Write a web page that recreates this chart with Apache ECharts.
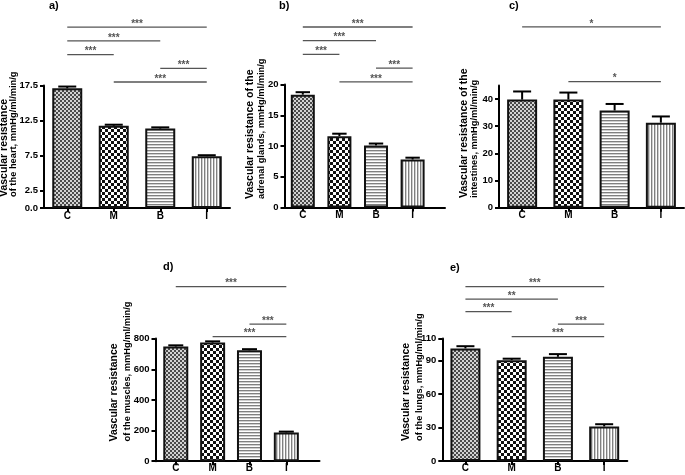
<!DOCTYPE html>
<html><head><meta charset="utf-8">
<script src="https://cdn.jsdelivr.net/npm/echarts@6/dist/echarts.min.js"></script>
<style>html,body{margin:0;padding:0;background:#fff}#c{width:685px;height:475px}</style>
</head><body><div id="c"></div><script>
// ---------- data ----------
const categories = ['C', 'M', 'B', 'I'];

const heartMean = [17.1, 11.75, 11.35, 7.4];
const heartSem  = [0.25, 0.15, 0.17, 0.14];
const heartTicks = [0, 2.5, 7.5, 12.5, 17.5];

const adrenalMean = [18.35, 11.6, 10.1, 7.8];
const adrenalSem  = [0.4, 0.4, 0.3, 0.3];
const adrenalTicks = [0, 5, 10, 15, 20];

const intestMean = [39.8, 39.8, 35.8, 31.3];
const intestSem  = [3.0, 2.6, 2.4, 2.3];
const intestTicks = [0, 10, 20, 30, 40];

const muscleMean = [748, 774, 724, 188];
const muscleSem  = [8, 8, 7, 5];
const muscleTicks = [0, 200, 400, 600, 800];

const lungMean = [101, 90.5, 93.5, 31];
const lungSem  = [2, 1.3, 2.4, 2];
const lungTicks = [0, 30, 60, 90, 110];

// significance brackets: [from category, to category, stars, stack level]
const heartSig   = [[1, 3, '***', 0], [2, 3, '***', 1], [0, 1, '***', 2], [0, 2, '***', 3], [0, 3, '***', 4]];
const adrenalSig = [[1, 3, '***', 0], [2, 3, '***', 1], [0, 1, '***', 2], [0, 2, '***', 3], [0, 3, '***', 4]];
const intestSig  = [[1, 3, '*', 0], [0, 3, '*', 4]];
const muscleSig  = [[1, 3, '***', 0], [2, 3, '***', 1], [0, 3, '***', 4]];
const lungSig    = [[1, 3, '***', 0], [2, 3, '***', 1], [0, 1, '***', 2], [0, 2, '**', 3], [0, 3, '***', 4]];

const panelLetters = ['a)', 'b)', 'c)', 'd)', 'e)'];
const titleLine1 = ['Vascular resistance', 'Vascular resistance of the', 'Vascular resistance of the', 'Vascular resistance', 'Vascular resistance'];
const titleLine2 = ['of the heart, mmHg/ml/min/g', 'adrenal glands, mmHg/ml/min/g', 'intestines, mmHg/ml/min/g', 'of the muscles, mmHg/ml/min/g', 'of the lungs, mmHg/ml/min/g'];

// ---------- styling / layout ----------
const FONT = "'Liberation Sans', Arial, Helvetica, sans-serif";

function makePattern(kind) {
  const c = document.createElement('canvas');
  const ctx = c.getContext('2d');
  if (kind === 'fine') {
    c.width = 4; c.height = 4;
    ctx.fillStyle = '#d2d2d2'; ctx.fillRect(0, 0, 4, 4);
    ctx.fillStyle = '#4a4a4a'; ctx.fillRect(0, 0, 2, 2); ctx.fillRect(2, 2, 2, 2);
  } else if (kind === 'check') {
    c.width = 6; c.height = 6;
    ctx.fillStyle = '#fff'; ctx.fillRect(0, 0, 6, 6);
    ctx.fillStyle = '#111'; ctx.fillRect(0, 0, 3, 3); ctx.fillRect(3, 3, 3, 3);
  } else if (kind === 'h') {
    c.width = 4; c.height = 3;
    ctx.fillStyle = '#fff'; ctx.fillRect(0, 0, 4, 3);
    ctx.fillStyle = '#808080'; ctx.fillRect(0, 0, 4, 1);
    ctx.fillStyle = '#cfcfcf'; ctx.fillRect(0, 1, 4, 1);
  } else {
    c.width = 3; c.height = 4;
    ctx.fillStyle = '#fff'; ctx.fillRect(0, 0, 3, 4);
    ctx.fillStyle = '#808080'; ctx.fillRect(0, 0, 1, 4);
    ctx.fillStyle = '#cfcfcf'; ctx.fillRect(1, 0, 1, 4);
  }
  return { image: c, repeat: 'repeat' };
}
const patterns = [makePattern('fine'), makePattern('check'), makePattern('h'), makePattern('v')];

const panels = [
  { mean: heartMean, sem: heartSem, ticks: heartTicks, max: 17.5, sig: heartSig, dec: 1,
    grid: { left: 44, top: 85.5, width: 186, height: 122.5 }, xMin: -0.5, xMax: 3.5, barW: 30,
    sigBase: 3.5, sigStep: 13.7, letter: [49, 6], t1: [4.5, 197], t2: [13.5, 197] },
  { mean: adrenalMean, sem: adrenalSem, ticks: adrenalTicks, max: 20, sig: adrenalSig, dec: 0,
    grid: { left: 284.5, top: 84.5, width: 160.5, height: 123 }, xMin: -0.5, xMax: 3.885, barW: 24,
    sigBase: 2.7, sigStep: 13.7, letter: [279, 6], t1: [250.5, 199], t2: [261.5, 199] },
  { mean: intestMean, sem: intestSem, ticks: intestTicks, max: 45, sig: intestSig, dec: 0,
    grid: { left: 499, top: 85.5, width: 185, height: 122.2 }, xMin: -0.5, xMax: 3.5, barW: 30,
    sigBase: 3.8, sigStep: 13.7, letter: [509, 6], t1: [464, 198], t2: [474.5, 198] },
  { mean: muscleMean, sem: muscleSem, ticks: muscleTicks, max: 800, sig: muscleSig, dec: 0,
    grid: { left: 155.5, top: 338.6, width: 164, height: 122.6 }, xMin: -0.55, xMax: 3.9, barW: 25,
    sigBase: 1.9, sigStep: 12.5, letter: [163, 267], t1: [114, 441.5], t2: [127, 441.5] },
  { mean: lungMean, sem: lungSem, ticks: lungTicks, max: 110, sig: lungSig, dec: 0,
    grid: { left: 442.3, top: 338.4, width: 185, height: 122.6 }, xMin: -0.5, xMax: 3.5, barW: 30,
    sigBase: 1.7, sigStep: 12.5, letter: [450, 268], t1: [406, 441], t2: [419, 441] }
];

const axisLineStyle = { color: '#000', width: 2 };
const grids = [], xAxes = [], yAxes = [], series = [], graphics = [];

panels.forEach((p, i) => {
  grids.push(Object.assign({ containLabel: false }, p.grid));
  xAxes.push({
    type: 'value', gridIndex: i, min: p.xMin, max: p.xMax,
    axisLine: { show: true, onZero: false, lineStyle: axisLineStyle },
    axisTick: { show: true, customValues: [0, 1, 2, 3], length: 4, lineStyle: axisLineStyle },
    axisLabel: { customValues: [0, 1, 2, 3], formatter: v => categories[Math.round(v)],
      fontFamily: FONT, fontWeight: 'bold', fontSize: 10, color: '#000', margin: i < 3 ? 3 : 2 },
    splitLine: { show: false }
  });
  yAxes.push({
    type: 'value', gridIndex: i, min: 0, max: p.max,
    axisLine: { show: true, onZero: false, lineStyle: axisLineStyle },
    axisTick: { show: true, customValues: p.ticks, length: 4, lineStyle: axisLineStyle },
    axisLabel: { customValues: p.ticks, formatter: v => v.toFixed(p.dec),
      fontFamily: FONT, fontWeight: 'bold', fontSize: 9.5, color: '#000', margin: 6 },
    splitLine: { show: false }
  });
  series.push({
    type: 'bar', xAxisIndex: i, yAxisIndex: i, barWidth: p.barW, silent: true, z: 2,
    itemStyle: { borderColor: '#111', borderWidth: 2 },
    data: p.mean.map((v, k) => ({ value: [k, v], itemStyle: { color: patterns[k] } }))
  });
  const capW = p.barW * 0.6;
  series.push({
    type: 'custom', xAxisIndex: i, yAxisIndex: i, silent: true, z: 3, clip: false,
    encode: { x: 0, y: [1, 2] },
    data: p.mean.map((v, k) => [k, v, v + p.sem[k]]),
    renderItem: (params, api) => {
      const x = api.value(0);
      const lo = api.coord([x, api.value(1)]);
      const hi = api.coord([x, api.value(2)]);
      return { type: 'group', children: [
        { type: 'line', shape: { x1: lo[0], y1: lo[1], x2: hi[0], y2: hi[1] }, style: { stroke: '#000', lineWidth: 2 } },
        { type: 'line', shape: { x1: hi[0] - capW / 2, y1: hi[1], x2: hi[0] + capW / 2, y2: hi[1] }, style: { stroke: '#000', lineWidth: 2 } }
      ] };
    }
  });
  const sigLabels = p.sig.map(s => s[2]);
  series.push({
    type: 'custom', xAxisIndex: i, yAxisIndex: i, silent: true, z: 3, clip: false,
    encode: { x: [0, 1], y: 2 },
    data: p.sig.map(s => [s[0], s[1], s[3]]),
    renderItem: (params, api) => {
      const a = api.coord([api.value(0), p.max]);
      const b = api.coord([api.value(1), p.max]);
      const y = a[1] - p.sigBase - api.value(2) * p.sigStep;
      return { type: 'group', children: [
        { type: 'line', shape: { x1: a[0], y1: y, x2: b[0], y2: y }, style: { stroke: '#555', lineWidth: 1.3 } },
        { type: 'text', x: (a[0] + b[0]) / 2, y: y - 3,
          style: { text: sigLabels[params.dataIndex], align: 'center', verticalAlign: 'middle',
            font: 'bold 10px ' + FONT, fill: '#555' } }
      ] };
    }
  });
  graphics.push({ type: 'text', x: p.letter[0], y: p.letter[1],
    style: { text: panelLetters[i], font: 'bold 11px ' + FONT, fill: '#000', align: 'left', verticalAlign: 'middle' } });
  graphics.push({ type: 'text', x: p.t1[0], y: p.t1[1], rotation: Math.PI / 2,
    style: { text: titleLine1[i], font: 'bold 10.5px ' + FONT, fill: '#000', align: 'left', verticalAlign: 'middle' } });
  graphics.push({ type: 'text', x: p.t2[0], y: p.t2[1], rotation: Math.PI / 2,
    style: { text: titleLine2[i], font: 'bold 9.3px ' + FONT, fill: '#000', align: 'left', verticalAlign: 'middle' } });
});

const chart = echarts.init(document.getElementById('c'), null, { renderer: 'canvas' });
chart.setOption({
  backgroundColor: '#fff',
  animation: false,
  grid: grids, xAxis: xAxes, yAxis: yAxes, series: series,
  graphic: graphics
});
</script></body></html>
